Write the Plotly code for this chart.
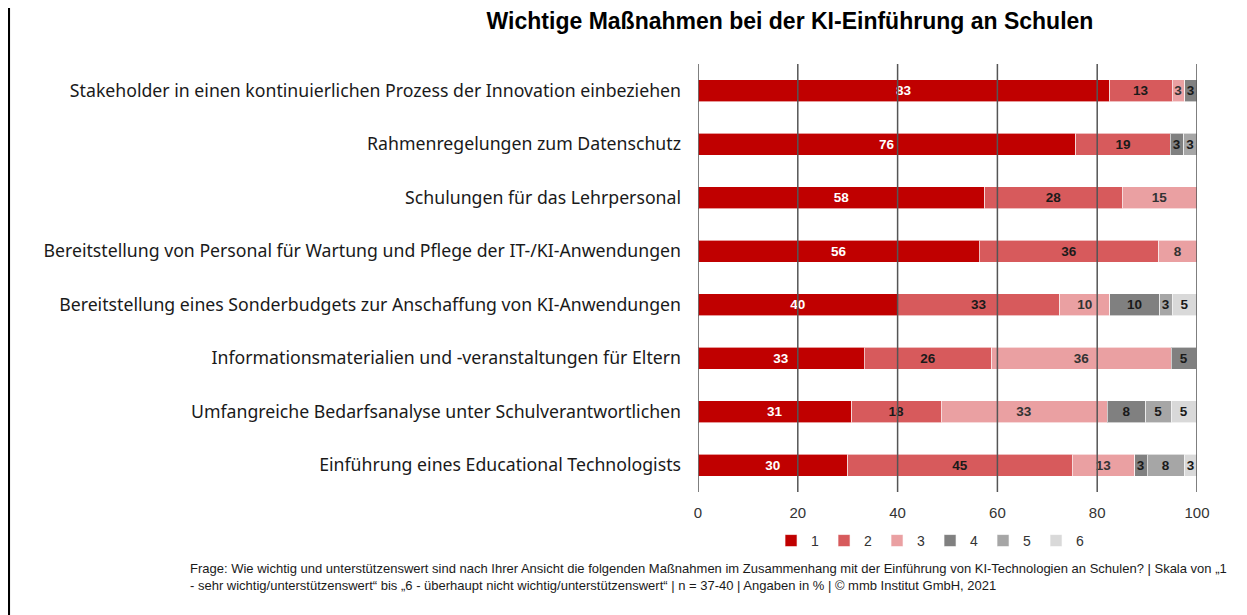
import plotly.graph_objects as go

categories = [
    "Stakeholder in einen kontinuierlichen Prozess der Innovation einbeziehen",
    "Rahmenregelungen zum Datenschutz",
    "Schulungen für das Lehrpersonal",
    "Bereitstellung von Personal für Wartung und Pflege der IT-/KI-Anwendungen",
    "Bereitstellung eines Sonderbudgets zur Anschaffung von KI-Anwendungen",
    "Informationsmaterialien und -veranstaltungen für Eltern",
    "Umfangreiche Bedarfsanalyse unter Schulverantwortlichen",
    "Einführung eines Educational Technologists",
]

series_names = ["1", "2", "3", "4", "5", "6"]
s1 = [82.5, 75.7, 57.5, 56.4, 40.0, 33.3, 30.8, 30.0]
s2 = [12.5, 18.9, 27.5, 35.9, 32.5, 25.6, 17.9, 45.0]
s3 = [2.5, 0, 15.0, 7.7, 10.0, 35.9, 33.3, 12.5]
s4 = [2.5, 2.7, 0, 0, 10.0, 5.1, 7.7, 2.5]
s5 = [0, 2.7, 0, 0, 2.5, 0, 5.1, 7.5]
s6 = [0, 0, 0, 0, 5.0, 0, 5.1, 2.5]
series_values = [s1, s2, s3, s4, s5, s6]

colors = ["#c00000", "#d75a5c", "#eaa0a2", "#808080", "#a6a6a6", "#d9d9d9"]
text_colors = ["white", "#1a1a1a", "#333333", "#1a1a1a", "#1a1a1a", "#1a1a1a"]
tick_vals = [0, 20, 40, 60, 80, 100]

# page is offset by 8px body margin; figure coordinates = reference - 8
W, H = 1239, 607
L, R, T, B = 690, 50, 56, 123
PW = W - L - R
PH = H - T - B

fig = go.Figure()
for name, vals, col, tcol in zip(series_names, series_values, colors, text_colors):
    labels = [str(int(round(v + 1e-9))) if v > 0 else "" for v in vals]
    fig.add_trace(go.Bar(
        y=categories, x=vals, name=name, orientation="h",
        marker=dict(color=col, line=dict(color="rgba(255,255,255,0.6)", width=1)),
        text=labels, textposition="inside", insidetextanchor="middle",
        textangle=0,
        textfont=dict(family="Liberation Sans, Arial", size=13.5, color=tcol, weight="bold"),
        hoverinfo="skip",
    ))

for t in tick_vals:
    fig.add_shape(type="line", xref="x", yref="paper", x0=t, x1=t, y0=0, y1=1,
                  line=dict(color="#555555", width=1.5), layer="above")

# left frame line
fx = (0.8 - L) / PW
fig.add_shape(type="line", xref="paper", yref="paper",
              x0=fx, x1=fx, y0=-B / PH, y1=1 + T / PH,
              line=dict(color="black", width=2.5), layer="above")

fig.update_layout(
    width=W, height=H,
    margin=dict(l=L, r=R, t=T, b=B),
    barmode="stack", bargap=0.58,
    paper_bgcolor="white", plot_bgcolor="white",
    uniformtext=dict(minsize=13, mode="show"),
    title=dict(text="<b>Wichtige Maßnahmen bei der KI-Einführung an Schulen</b>",
               x=(790 - 8) / W, xanchor="center", y=1 - 13 / H, yanchor="middle",
               font=dict(family="Liberation Sans, Arial", size=23, color="black")),
    xaxis=dict(range=[0, 100], tickvals=tick_vals, showgrid=False, zeroline=False,
               showline=False, ticks="", ticklabelstandoff=10,
               tickfont=dict(family="Liberation Sans, Arial", size=15, color="#333333")),
    yaxis=dict(categoryorder="array", categoryarray=categories, autorange="reversed",
               showgrid=False, ticks="", showline=False, ticklabelstandoff=16,
               tickfont=dict(family="Noto Sans, Open Sans", size=17.7, color="#1a1a1a")),
    legend=dict(orientation="h", x=0.465, xanchor="center", y=-0.077, yanchor="top",
                font=dict(family="Liberation Sans, Arial", size=14, color="#333333"),
                itemwidth=30, traceorder="normal"),
    showlegend=True,
)

fig.add_annotation(
    xref="paper", yref="paper", x=(180 - L) / PW, y=-(567 - 8 - (T + PH) - 8) / PH,
    xanchor="left", yanchor="top", align="left", showarrow=False,
    text=("Frage: Wie wichtig und unterstützenswert sind nach Ihrer Ansicht die folgenden Maßnahmen im Zusammenhang mit der Einführung von KI-Technologien an Schulen? | Skala von „1"
          "<br>- sehr wichtig/unterstützenswert“ bis „6 - überhaupt nicht wichtig/unterstützenswert“ | n = 37-40 | Angaben in % | © mmb Institut GmbH, 2021"),
    font=dict(family="Liberation Sans, Arial", size=13, color="#1a1a1a"),
)

fig.write_html("out.html")
